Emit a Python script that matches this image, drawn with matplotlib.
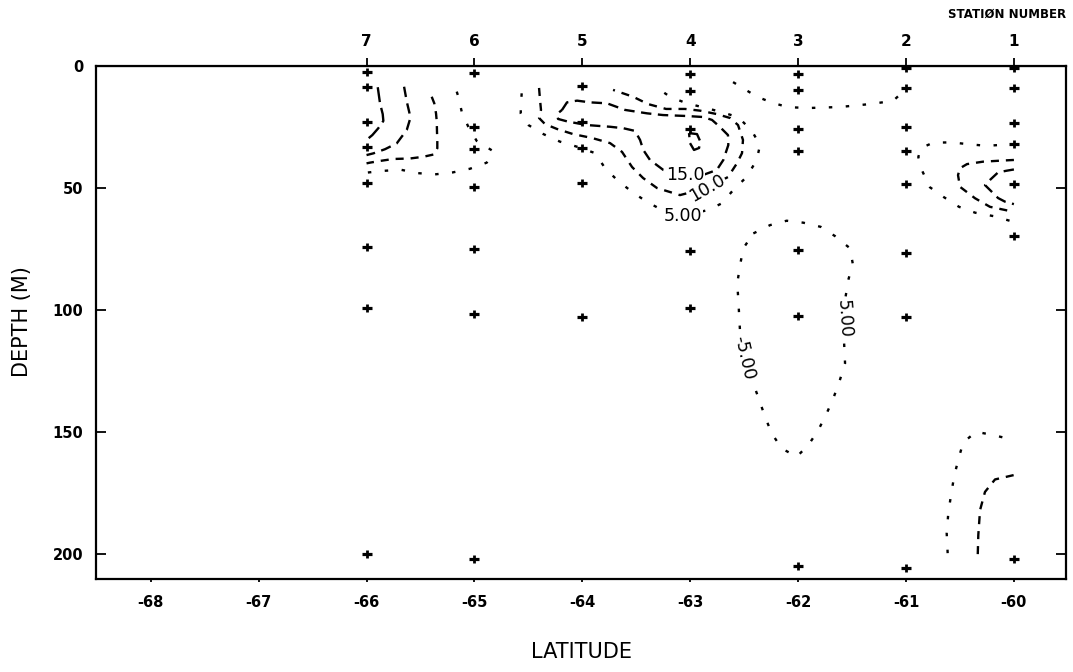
import matplotlib
matplotlib.use("Agg")
import matplotlib.pyplot as plt

plt.rcParams['lines.scale_dashes'] = False
plt.rcParams['axes.unicode_minus'] = False
plt.rcParams['font.family'] = ['DejaVu Sans']

# ---------------- data ----------------
station_numbers = ["7", "6", "5", "4", "3", "2", "1"]
station_lats = [-66, -65, -64, -63, -62, -61, -60]
lat_ticks = [-68, -67, -66, -65, -64, -63, -62, -61, -60]
depth_ticks = [0, 50, 100, 150, 200]

# sample depths (m) at each station
depths_st7 = [2.5, 8.5, 23, 33, 48, 74, 99, 200]
depths_st6 = [3, 25, 34, 49.5, 75, 101.5, 202]
depths_st5 = [8, 23, 33.5, 48, 103]
depths_st4 = [3.4, 10.2, 25.8, 76, 99]
depths_st3 = [3.4, 9.8, 25.8, 34.7, 75.4, 102.5, 205]
depths_st2 = [1, 9, 25, 35, 48.4, 76.5, 103, 205.5]
depths_st1 = [1, 9, 23.5, 32, 48.4, 69.7, 202]

# contour lines read from the section (latitude, depth)
# level 20
c20_a_lat = [-65.896, -65.875, -65.85, -65.844, -65.891, -65.946, -66.0]
c20_a_dep = [8.7, 15.3, 19.7, 22.5, 25.5, 28.3, 30.3]
c20_b_lat = [-63.011, -62.937, -62.909, -62.918, -62.965, -63.002, -63.011]
c20_b_dep = [27.5, 27.9, 30.7, 33.6, 34.4, 31.6, 27.5]
# level 15
c15_a_lat = [-65.652, -65.627, -65.603, -65.597, -65.627, -65.72, -65.829, -65.937, -66.0]
c15_a_dep = [8.5, 14.6, 19.1, 21.8, 26.2, 31.7, 34.1, 35.8, 36.5]
c15_b_lat = [-64.188, -64.142, -64.049, -63.929, -63.771, -63.604, -63.4, -63.252, -63.03,
             -62.881, -62.798, -62.724, -62.65, -62.647, -62.693, -62.754, -62.909, -63.048,
             -63.249, -63.373, -63.435, -63.465, -63.512, -63.62, -63.743, -63.956, -64.132,
             -64.225, -64.235, -64.188]
c15_b_dep = [18.0, 14.9, 14.2, 14.9, 15.3, 18.0, 19.4, 20.1, 20.5,
             20.9, 22.1, 25.0, 28.3, 32.4, 38.5, 42.6, 45.1, 44.7,
             42.6, 38.5, 34.4, 30.3, 26.6, 25.5, 24.9, 24.2, 22.8,
             21.7, 19.7, 18.0]
c15_c_lat = [-60.0, -60.067, -60.147, -60.222, -60.268, -60.222, -60.147, -60.082, -60.0]
c15_c_dep = [42.4, 42.9, 43.6, 46.7, 48.8, 50.8, 54.1, 55.6, 56.6]
# level 10
c10_a_lat = [-65.396, -65.372, -65.356, -65.349, -65.347, -65.344, -65.344, -65.372, -65.474,
             -65.597, -65.752, -65.875, -65.968, -66.0]
c10_a_dep = [12.6, 15.3, 19.4, 22.8, 26.9, 30.3, 33.7, 36.2, 37.2,
             37.9, 38.1, 38.9, 39.6, 39.9]
c10_b_lat = [-64.401, -64.392, -64.383, -64.401, -64.346, -64.235, -64.086, -63.91, -63.743,
             -63.632, -63.539, -63.437, -63.308, -63.095, -62.844, -62.65, -62.566, -62.52,
             -62.511, -62.557, -62.631, -62.754, -62.909, -63.048, -63.224, -63.391, -63.53,
             -63.715]
c10_b_dep = [9.0, 13.9, 18.0, 21.3, 23.8, 25.8, 27.9, 29.5, 31.6,
             35.2, 41.4, 45.9, 50.0, 52.9, 50.0, 45.5, 39.8, 35.7,
             30.3, 24.2, 21.3, 19.7, 18.3, 17.6, 17.6, 15.6, 12.6,
             9.8]
c10_c_lat = [-60.0, -60.129, -60.286, -60.435, -60.5, -60.518, -60.5, -60.36, -60.222, -60.082, -60.0]
c10_c_dep = [38.5, 38.8, 39.2, 40.2, 41.9, 44.7, 49.5, 54.2, 57.7, 59.0, 59.8]
c10_d_lat = [-60.335, -60.33, -60.314, -60.268, -60.175, -60.0]
c10_d_dep = [200.0, 192.2, 182.0, 174.5, 169.4, 167.6]
# level 5
c5_a_lat = [-65.164, -65.149, -65.118, -65.057, -64.979, -64.83, -64.855, -64.886, -65.041,
            -65.201, -65.365, -65.526, -65.683, -65.856, -66.0]
c5_a_dep = [10.5, 12.6, 18.7, 24.9, 30.7, 34.8, 37.8, 39.6, 42.1,
            43.6, 44.4, 43.9, 42.5, 43.0, 43.7]
c5_b_lat = [-64.562, -64.568, -64.571, -64.54, -64.5, -64.361, -64.207, -64.04, -63.882,
            -63.79, -63.678, -63.539, -63.4, -63.261, -63.067, -62.835, -62.708, -62.601,
            -62.476, -62.384, -62.353, -62.43, -62.554, -62.724, -62.847, -63.039, -63.187,
            -63.317]
c5_b_dep = [11.2, 15.2, 19.4, 22.1, 24.2, 27.9, 31.0, 33.2, 35.7,
            41.8, 46.7, 51.6, 55.7, 59.0, 61.5, 59.0, 56.3, 50.8,
            45.4, 38.5, 32.4, 26.5, 21.0, 18.7, 17.3, 15.2, 12.6,
            8.7]
c5_c_lat = [-62.603, -62.381, -62.242, -62.094, -61.89, -61.612, -61.334, -61.12, -61.009]
c5_c_dep = [6.6, 12.6, 15.0, 16.9, 17.2, 16.8, 15.6, 14.3, 9.8]
c5_d_lat = [-60.0, -60.252, -60.413, -60.576, -60.747, -60.861, -60.886, -60.854, -60.778,
            -60.654, -60.509, -60.36, -60.191, -60.0]
c5_d_dep = [32.0, 32.7, 32.1, 31.3, 31.4, 33.6, 37.3, 42.6, 49.7,
            53.6, 57.7, 60.1, 61.5, 63.9]
c5_e_lat = [-60.614, -60.623, -60.608, -60.583, -60.555, -60.515, -60.469, -60.351, -60.191, -60.0]
c5_e_dep = [199.6, 191.4, 183.2, 175.8, 168.4, 161.1, 154.2, 149.9, 151.2, 153.3]
c5_f_lat = [-62.415, -62.26, -62.106, -61.952, -61.791, -61.658, -61.519, -61.494, -61.535,
            -61.565, -61.584, -61.575, -61.565, -61.618, -61.674, -61.735, -61.813, -61.905,
            -62.013, -62.152, -62.245, -62.307, -62.36, -62.427, -62.492, -62.534, -62.545,
            -62.554, -62.564, -62.538, -62.508, -62.415]
c5_f_dep = [68.6, 65.2, 63.4, 64.2, 65.9, 69.7, 74.7, 80.9, 87.7,
            95.9, 104.1, 112.3, 121.8, 129.4, 136.2, 142.3, 149.2, 155.3,
            160.1, 156.7, 150.5, 143.7, 136.9, 128.7, 120.5, 112.3, 103.4,
            95.9, 89.1, 81.6, 74.7, 68.6]

# contour labels: text, latitude, depth, rotation
label_texts = ["15.0", "10.0", "5.00", "5.00", "-5.00"]
label_lats = [-63.048, -62.844, -63.067, -61.577, -62.50]
label_deps = [44.7, 50.0, 61.3, 103.7, 119.7]
label_rots = [0, 30, 0, -86, -77]

# ---------------- figure ----------------
fig = plt.figure(figsize=(10.73, 6.72), dpi=100)
ax = fig.add_axes([0.0892, 0.138, 0.9047, 0.7638])
ax.set_xlim(-68.51, -59.513)
ax.set_ylim(210.3, 0)

styles = {
    20: (0, (10.8, 4.3)),
    15: (0, (7.5, 4.7)),
    10: (0, (5.8, 5.0)),
    5: (0, (2.5, 9.7)),
}
segments = [
    (20, c20_a_lat, c20_a_dep), (20, c20_b_lat, c20_b_dep),
    (15, c15_a_lat, c15_a_dep), (15, c15_b_lat, c15_b_dep), (15, c15_c_lat, c15_c_dep),
    (10, c10_a_lat, c10_a_dep), (10, c10_b_lat, c10_b_dep), (10, c10_c_lat, c10_c_dep),
    (10, c10_d_lat, c10_d_dep),
    (5, c5_a_lat, c5_a_dep), (5, c5_b_lat, c5_b_dep), (5, c5_c_lat, c5_c_dep),
    (5, c5_d_lat, c5_d_dep), (5, c5_e_lat, c5_e_dep), (5, c5_f_lat, c5_f_dep),
]
for lev, la, de in segments:
    ax.plot(la, de, color='black', lw=1.7, dash_capstyle='butt',
            linestyle=styles[lev], zorder=2)

for t, la, de, r in zip(label_texts, label_lats, label_deps, label_rots):
    ax.text(la, de, t, fontsize=12.5, rotation=r, ha='center', va='center',
            rotation_mode='anchor', zorder=3,
            bbox=dict(boxstyle='square,pad=0.05', fc='white', ec='none'))

all_depths = [depths_st7, depths_st6, depths_st5, depths_st4, depths_st3, depths_st2, depths_st1]
for lat, deps in zip(station_lats, all_depths):
    ax.plot([lat] * len(deps), deps, ls='none', marker='_', ms=7.5, mew=2.3,
            color='black', zorder=4)
    ax.plot([lat] * len(deps), deps, ls='none', marker='|', ms=5.5, mew=2.0,
            color='black', zorder=4)

for s in ax.spines.values():
    s.set_linewidth(1.6)

ax.set_xticks(lat_ticks)
ax.set_xticklabels([str(v) for v in lat_ticks])
ax.set_yticks(depth_ticks)
ax.set_yticklabels([str(v) for v in depth_ticks])
ax.tick_params(axis='x', direction='out', length=2.5, width=1.3, pad=9,
               labelsize=10.5, top=False)
ax.tick_params(axis='y', direction='in', length=7, width=1.3, pad=9,
               labelsize=10.5, left=True, right=True)
for lab in ax.get_xticklabels() + ax.get_yticklabels():
    lab.set_fontweight('bold')

sec = ax.secondary_xaxis('top')
sec.set_xticks(station_lats)
sec.set_xticklabels(station_numbers)
sec.tick_params(axis='x', direction='out', length=6, width=1.3, pad=6.5, labelsize=11)
for lab in sec.get_xticklabels():
    lab.set_fontweight('bold')

fig.text(0.9935, 1 - 14 / 672, "STATIØN NUMBER", ha='right', va='center',
         fontsize=8.5, fontweight='bold')
fig.text(0.0205, 0.522, "DEPTH (M)", rotation=90, ha='center', va='center', fontsize=15)
fig.text(0.5415, 0.03, "LATITUDE", ha='center', va='center', fontsize=15)

fig.savefig("out.png", dpi=100)
